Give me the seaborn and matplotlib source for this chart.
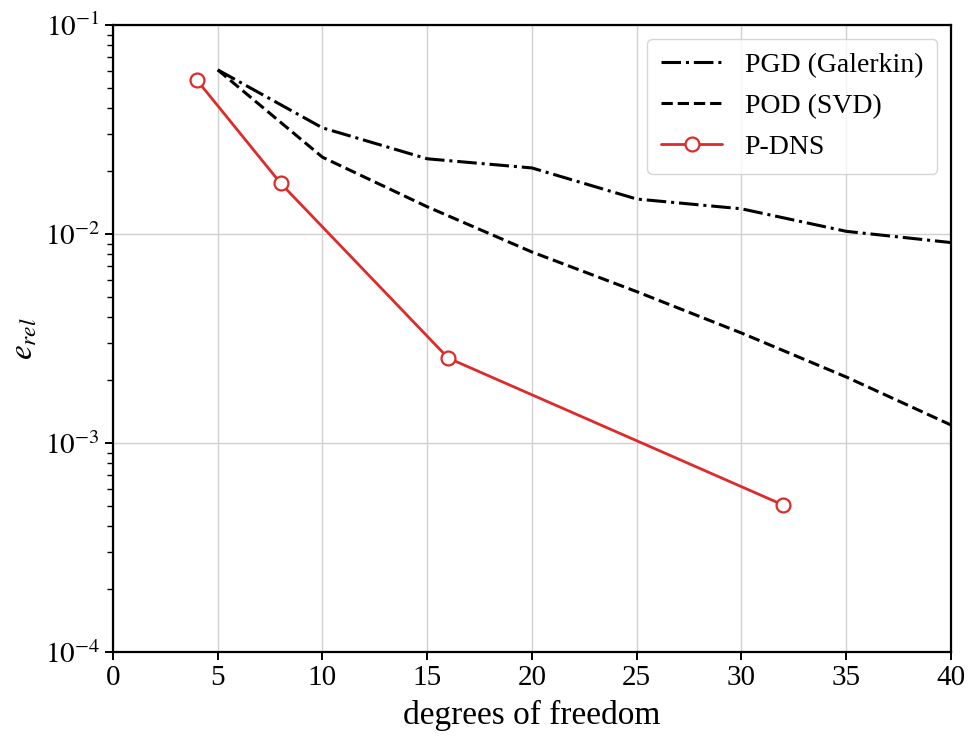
import numpy as np
import pandas as pd
import matplotlib
matplotlib.use("Agg")
import matplotlib.pyplot as plt
import seaborn as sns

# -------------------------------------------------------
# data
# -------------------------------------------------------

pgd_dof = [5, 10, 15, 20, 25, 30, 35, 40]
pgd_err = [0.061, 0.0322, 0.0229, 0.0207, 0.0147, 0.0132, 0.0103, 0.0091]

pod_dof = [5, 10, 15, 20, 25, 30, 35, 40]
pod_err = [0.061, 0.0233, 0.0135, 0.0082, 0.0053, 0.00336, 0.00207, 0.00122]

pdns_dof = [4, 8, 16, 32]
pdns_err = [0.0546, 0.0175, 0.00255, 0.000505]

x_ticks = [0, 5, 10, 15, 20, 25, 30, 35, 40]
y_ticks = [1e-4, 1e-3, 1e-2, 1e-1]
y_tick_labels = [r"$10^{-4}$", r"$10^{-3}$", r"$10^{-2}$", r"$10^{-1}$"]

sns.set_theme(style="whitegrid", rc={
    "axes.edgecolor": "black",
    "axes.linewidth": 1.6,
    "axes.labelcolor": "black",
    "text.color": "black",
    "grid.color": "#d0d0d0",
    "grid.linewidth": 1.0,
    "xtick.bottom": True,
    "ytick.left": True,
    "xtick.direction": "out",
    "ytick.direction": "out",
    "xtick.major.size": 6,
    "ytick.major.size": 6,
    "ytick.minor.size": 4,
    "xtick.major.width": 1.4,
    "ytick.major.width": 1.4,
    "ytick.minor.width": 1.0,
    "xtick.color": "black",
    "ytick.color": "black",
    "mathtext.fontset": "stix",
})
plt.rcParams["font.family"] = ["Liberation Serif", "DejaVu Serif"]

fig = plt.figure(figsize=(9.69, 7.41), dpi=100)
ax = fig.add_axes([0.1166, 0.120, 0.9814 - 0.1166, 0.9663 - 0.120])

sns.lineplot(x=pgd_dof, y=pgd_err, ax=ax, color="black", linestyle="-.",
             linewidth=2.2, label="PGD (Galerkin)")
sns.lineplot(x=pod_dof, y=pod_err, ax=ax, color="black", linestyle="--",
             linewidth=2.2, label="POD (SVD)")
sns.lineplot(x=pdns_dof, y=pdns_err, ax=ax, color="#dd2a2a", linewidth=2.0,
             marker="o", markersize=10, markerfacecolor="white",
             markeredgecolor="#dd2a2a", markeredgewidth=1.6, label="P-DNS")

ax.set_yscale("log")
ax.set_xlim(0, 40)
ax.set_ylim(1e-4, 1e-1)
ax.set_xticks(x_ticks)
ax.set_xticklabels([str(t) for t in x_ticks])
ax.set_yticks(y_ticks)
ax.set_yticklabels(y_tick_labels)
ax.yaxis.set_minor_locator(matplotlib.ticker.LogLocator(base=10, subs=np.arange(2, 10)))
ax.yaxis.set_minor_formatter(matplotlib.ticker.NullFormatter())
ax.tick_params(axis="both", labelsize=21)
ax.grid(True, which="major")
ax.grid(False, which="minor")

ax.set_xlabel("degrees of freedom", fontsize=24, labelpad=6)
ax.set_ylabel(r"$e_{rel}$", fontsize=24)

leg = ax.legend(loc="upper right", fontsize=20, frameon=True, fancybox=True,
                handlelength=2.2, borderpad=0.5, labelspacing=0.55)
leg.get_frame().set_edgecolor("#cccccc")
leg.get_frame().set_linewidth(1.0)
for t in leg.get_texts():
    t.set_color("black")

for s in ax.spines.values():
    s.set_visible(True)
    s.set_color("black")

fig.savefig("out.png", dpi=100)
